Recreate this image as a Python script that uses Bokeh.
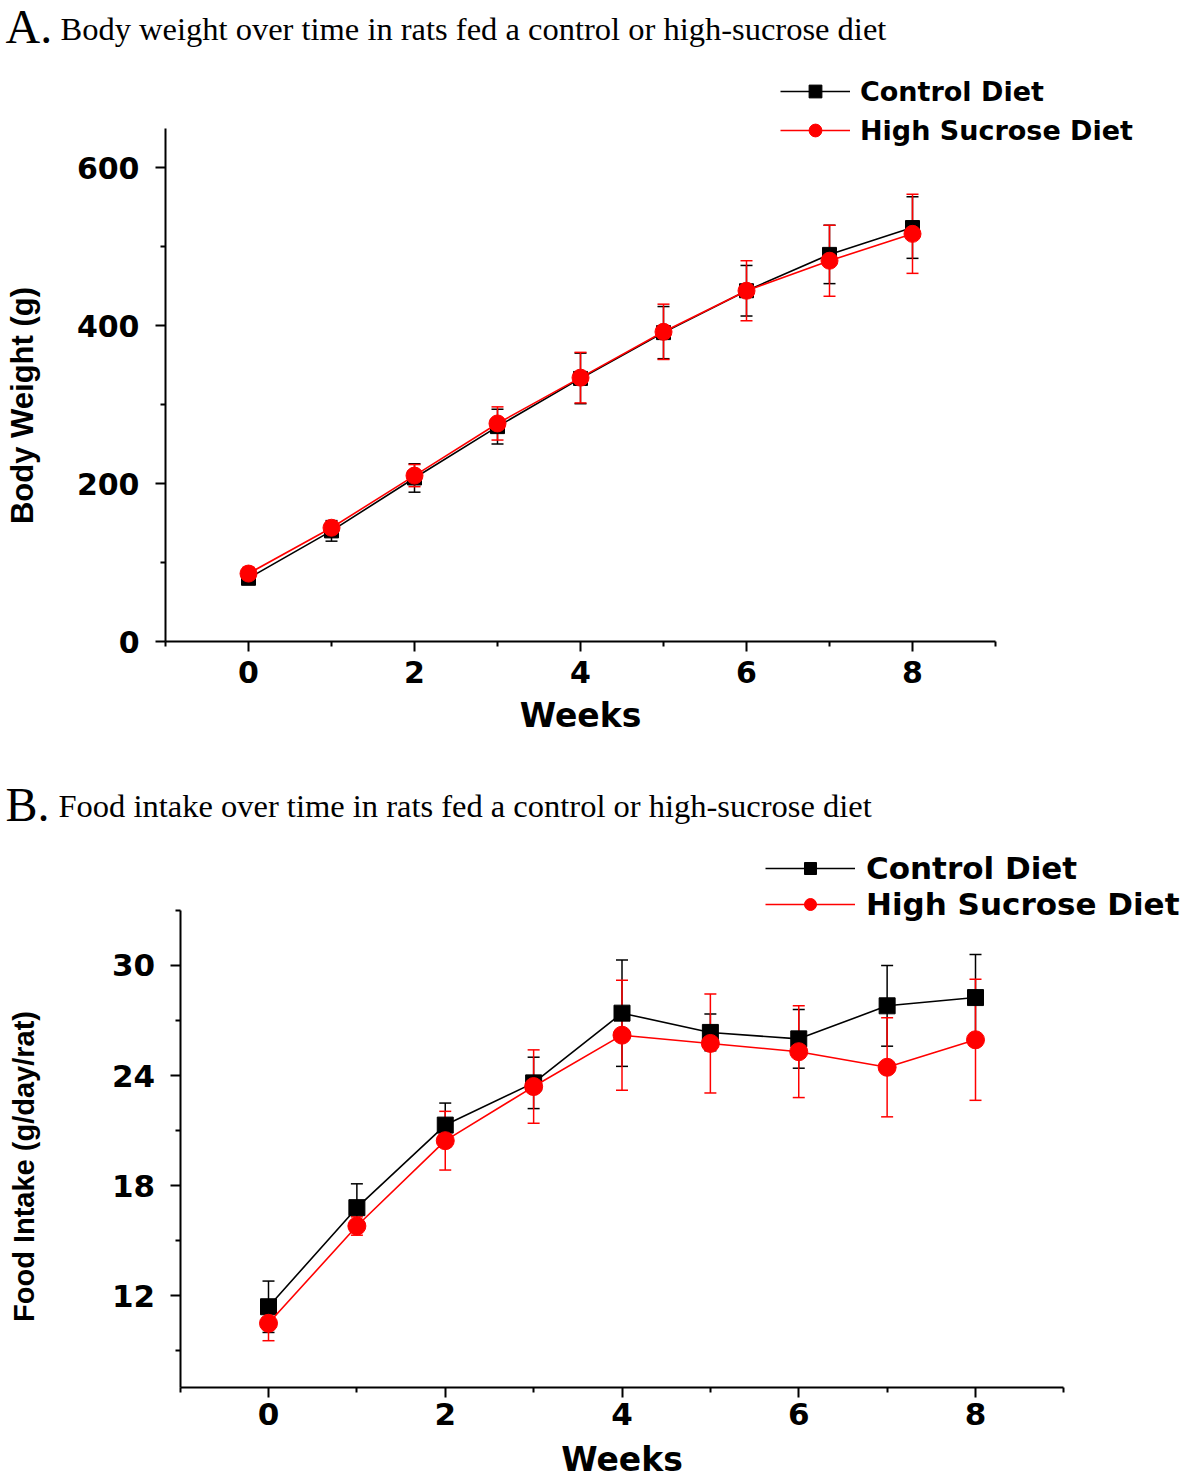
from bokeh.plotting import figure
from bokeh.models import (Range1d, FixedTicker, Whisker, TeeHead, ColumnDataSource,
                          Legend, LegendItem, Label, LinearAxis)
from bokeh.layouts import column
from bokeh.embed import file_html
from bokeh.resources import INLINE

# ---------------- data ----------------
weeks = [0, 1, 2, 3, 4, 5, 6, 7, 8]

bw_control = [80, 140, 207, 272, 333, 391, 444, 490, 524]
bw_control_sd = [6, 13, 18, 22, 32, 33, 32, 37, 39]
bw_hsd = [86, 144, 210, 276, 334, 392, 444, 482, 516]
bw_hsd_sd = [8, 8, 14, 21, 32, 35, 38, 45, 50]

fi_control = [11.4, 16.8, 21.3, 23.6, 27.4, 26.35, 26.0, 27.8, 28.25]
fi_control_sd = [1.4, 1.3, 1.2, 1.4, 2.9, 1.0, 1.6, 2.2, 2.35]
fi_hsd = [10.5, 15.8, 20.45, 23.4, 26.2, 25.75, 25.3, 24.45, 25.95]
fi_hsd_sd = [0.95, 0.5, 1.6, 2.0, 3.0, 2.7, 2.5, 2.7, 3.3]

x_major = [0, 2, 4, 6, 8]
x_minor = [-1, 1, 3, 5, 7, 9]
x_bounds = (-1, 9)
bw_major = [0, 200, 400, 600]
bw_minor = [100, 300, 500]
bw_bounds = (0, 650)
bw_label_bounds = (0, 597)      # span over which the y-axis title is centred
fi_major = [12, 18, 24, 30]
fi_minor = [9, 15, 21, 27, 33]
fi_bounds = (7, 33)
fi_label_bounds = (7, 31.1)

series_names = ["Control Diet", "High Sucrose Diet"]
title_a = "Body weight over time in rats fed a control or high-sucrose diet"
title_b = "Food intake over time in rats fed a control or high-sucrose diet"

BLACK = "#000000"
RED = "#ff0000"
W = 1192


def ranges(width, height, x0_px, x_ppu, y_base_px, y_base_val, y_ppu):
    """Build data ranges so that the whole canvas is the plotting frame."""
    xr = Range1d(-x0_px / x_ppu, (width - x0_px) / x_ppu)
    yr = Range1d(y_base_val - (height - y_base_px) / y_ppu, y_base_val + y_base_px / y_ppu)
    return xr, yr


def tick_style(ax, tick_size):
    ax.axis_line_width = 2
    ax.major_tick_line_width = 2
    ax.minor_tick_line_width = 2
    ax.major_tick_in = 0
    ax.major_tick_out = 10
    ax.minor_tick_in = 0
    ax.minor_tick_out = 5
    ax.major_label_text_font = "DejaVu Sans"
    ax.major_label_text_font_style = "bold"
    ax.major_label_text_font_size = tick_size
    ax.major_label_text_color = BLACK
    ax.axis_line_color = BLACK
    ax.major_tick_line_color = BLACK
    ax.minor_tick_line_color = BLACK
    ax.axis_label_text_color = BLACK


def style_axes(p, y_major, y_minor, y_bounds, y_label_bounds, xlabel, ylabel, tick_size,
               ylab_size, ylab_standoff, xlab_standoff, xtick_standoff, ytick_standoff):
    p.xaxis.ticker = FixedTicker(ticks=x_major, minor_ticks=x_minor)
    p.yaxis.ticker = FixedTicker(ticks=y_major, minor_ticks=y_minor)
    p.xaxis.fixed_location = y_bounds[0]
    p.yaxis.fixed_location = x_bounds[0]
    p.xaxis.bounds = x_bounds
    p.yaxis.bounds = y_bounds
    tick_style(p.xaxis[0], tick_size)
    tick_style(p.yaxis[0], tick_size)
    p.xaxis.axis_label = xlabel
    p.xaxis.axis_label_text_font = "DejaVu Sans"
    p.xaxis.axis_label_text_font_style = "bold"
    p.xaxis.axis_label_text_font_size = "33px"
    p.xaxis.axis_label_standoff = xlab_standoff
    p.xaxis.major_label_standoff = xtick_standoff
    p.yaxis.major_label_standoff = ytick_standoff

    # invisible companion axis that only carries the y title (centred like the reference)
    ty = LinearAxis(ticker=FixedTicker(ticks=y_major, minor_ticks=[]),
                    fixed_location=x_bounds[0], bounds=y_label_bounds,
                    axis_label=ylabel)
    tick_style(ty, tick_size)
    ty.axis_line_alpha = 0
    ty.major_tick_line_alpha = 0
    ty.minor_tick_line_alpha = 0
    ty.major_label_text_alpha = 0
    ty.axis_label_text_font = "Liberation Sans"
    ty.axis_label_text_font_style = "bold"
    ty.axis_label_text_font_size = ylab_size
    ty.axis_label_standoff = ylab_standoff
    p.add_layout(ty, "left")

    p.xgrid.visible = False
    p.ygrid.visible = False
    p.outline_line_color = None


def add_series(p, y_c, sd_c, y_h, sd_h, sq_size, circ_size):
    src_c = ColumnDataSource(dict(x=weeks, y=y_c,
                                  upper=[a + b for a, b in zip(y_c, sd_c)],
                                  lower=[a - b for a, b in zip(y_c, sd_c)]))
    src_h = ColumnDataSource(dict(x=weeks, y=y_h,
                                  upper=[a + b for a, b in zip(y_h, sd_h)],
                                  lower=[a - b for a, b in zip(y_h, sd_h)]))
    lc = p.line("x", "y", source=src_c, line_color=BLACK, line_width=1.6)
    sc = p.scatter("x", "y", source=src_c, marker="square", size=sq_size,
                   fill_color=BLACK, line_color=BLACK)
    lh = p.line("x", "y", source=src_h, line_color=RED, line_width=1.6)
    sh = p.scatter("x", "y", source=src_h, marker="circle", size=circ_size,
                   fill_color=RED, line_color=RED)
    wc = Whisker(base="x", upper="upper", lower="lower", source=src_c,
                 line_color=BLACK, line_width=1.5,
                 upper_head=TeeHead(size=12, line_color=BLACK, line_width=1.5),
                 lower_head=TeeHead(size=12, line_color=BLACK, line_width=1.5))
    wh = Whisker(base="x", upper="upper", lower="lower", source=src_h,
                 line_color=RED, line_width=1.5,
                 upper_head=TeeHead(size=12, line_color=RED, line_width=1.5),
                 lower_head=TeeHead(size=12, line_color=RED, line_width=1.5))
    p.add_layout(wc)
    p.add_layout(wh)
    return (lc, sc), (lh, sh)


def add_legend(p, rc, rh, loc, font_size, glyph_w, glyph_h, spacing, standoff):
    legend = Legend(items=[LegendItem(label=series_names[0], renderers=list(rc)),
                           LegendItem(label=series_names[1], renderers=list(rh))],
                    location=loc, orientation="vertical",
                    glyph_width=glyph_w, glyph_height=glyph_h, label_height=glyph_h,
                    spacing=spacing, label_standoff=standoff, padding=0, margin=0,
                    border_line_alpha=0, background_fill_alpha=0,
                    label_text_font="DejaVu Sans", label_text_font_style="bold",
                    label_text_font_size=font_size, label_text_color=BLACK)
    p.add_layout(legend, "center")


def add_title(p, letter, text, y_letter, y_text, x_letter, x_text):
    p.add_layout(Label(x=x_letter, y=y_letter, x_units="screen", y_units="screen", text=letter,
                       text_font="Liberation Serif", text_font_size="48px",
                       text_baseline="alphabetic", text_color=BLACK))
    p.add_layout(Label(x=x_text, y=y_text, x_units="screen", y_units="screen", text=text,
                       text_font="Liberation Serif", text_font_size="32.5px",
                       text_baseline="alphabetic", text_color=BLACK))


# ---------------- panel A ----------------
HA = 775
xrA, yrA = ranges(W, HA, x0_px=248, x_ppu=83.0, y_base_px=641, y_base_val=0, y_ppu=0.79)
pA = figure(width=W, height=HA, title=None, toolbar_location=None, output_backend="svg",
            x_range=xrA, y_range=yrA, min_border=0, background_fill_color="white")
style_axes(pA, bw_major, bw_minor, bw_bounds, bw_label_bounds, "Weeks", "Body Weight (g)",
           "30px", "31px", ylab_standoff=116, xlab_standoff=10, xtick_standoff=9,
           ytick_standoff=16)
rcA, rhA = add_series(pA, bw_control, bw_control_sd, bw_hsd, bw_hsd_sd, 14, 17)
add_legend(pA, rcA, rhA, (780, 629), "27px", 70, 32, 7, 10)
add_title(pA, "A.", title_a, HA - 26, HA - 28, 5, 60)

# ---------------- panel B ----------------
HB = 702
xrB, yrB = ranges(W, HB, x0_px=268, x_ppu=88.375, y_base_px=612, y_base_val=7, y_ppu=18.35)
pB = figure(width=W, height=HB, title=None, toolbar_location=None, output_backend="svg",
            x_range=xrB, y_range=yrB, min_border=0, background_fill_color="white")
style_axes(pB, fi_major, fi_minor, fi_bounds, fi_label_bounds, "Weeks",
           "Food Intake (g/day/rat)", "31px", "29px", ylab_standoff=131, xlab_standoff=12,
           xtick_standoff=5, ytick_standoff=15)
rcB, rhB = add_series(pB, fi_control, fi_control_sd, fi_hsd, fi_hsd_sd, 16, 18)
add_legend(pB, rcB, rhB, (765, 555), "31px", 90, 30, -3, 11)
add_title(pB, "B.", title_b, HB - 29, HB - 30, 5, 58)

layout = column(pA, pB, spacing=0)
open("out.html", "w").write(file_html(layout, INLINE))
